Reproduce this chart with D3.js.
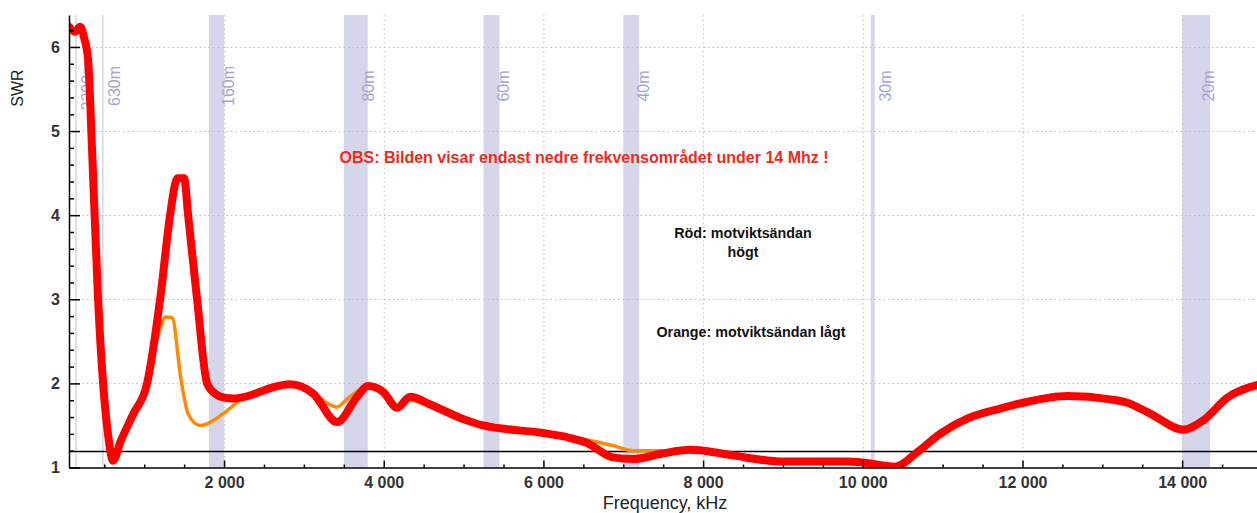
<!DOCTYPE html>
<html>
<head>
<meta charset="utf-8">
<script src="https://cdn.jsdelivr.net/npm/d3@7"></script>
<style>
  body { margin: 0; background: #fff; }
  svg { display: block; font-family: "Liberation Sans", Arial, sans-serif; }
</style>
</head>
<body>
<div id="chart"></div>
<script>
// red: counterpoise end high, orange: counterpoise end low  (kHz, SWR)
var redFreq = [59, 134, 197, 250, 297, 347, 422, 485, 540, 611, 700, 860, 1036, 1199, 1324, 1390, 1420, 1500, 1550, 1662, 1788, 1900, 2000, 2114, 2300, 2452, 2600, 2827, 3115, 3416, 3666, 3804, 3992, 4168, 4331, 4582, 4958, 5245, 5997, 6297, 6547, 6873, 7124, 7462, 7838, 8214, 8590, 9003, 9805, 9993, 10405, 10681, 10969, 11307, 11720, 12009, 12560, 13099, 13312, 13600, 14013, 14264, 14565, 14940];
var redSwr  = [6.24, 6.18, 6.24, 6.1, 5.85, 4.77, 3.0, 2.0, 1.45, 1.08, 1.3, 1.63, 2.0, 3.0, 4.0, 4.38, 4.44, 4.44, 4.0, 3.0, 2.0, 1.87, 1.83, 1.82, 1.85, 1.9, 1.95, 1.99, 1.88, 1.54, 1.84, 1.97, 1.9, 1.71, 1.84, 1.75, 1.59, 1.5, 1.41, 1.36, 1.29, 1.12, 1.1, 1.16, 1.21, 1.17, 1.11, 1.07, 1.07, 1.06, 1.01, 1.18, 1.4, 1.58, 1.7, 1.77, 1.85, 1.81, 1.77, 1.64, 1.45, 1.56, 1.83, 1.98];

var orangeFreq = [59, 134, 197, 250, 297, 347, 422, 485, 540, 611, 700, 860, 1036, 1136, 1200, 1262, 1350, 1460, 1550, 1700, 1990, 2200, 2300, 2452, 2600, 2827, 3115, 3300, 3416, 3550, 3804, 3992, 4168, 4331, 4582, 4958, 5245, 5997, 6297, 6547, 6873, 7124, 7462, 7838, 8214, 8590, 9003, 9805, 9993, 10405, 10681, 10969, 11307, 11720, 12009, 12560, 13099, 13312, 13600, 14013, 14264, 14565, 14940];
var orangeSwr  = [6.24, 6.18, 6.24, 6.1, 5.85, 4.77, 3.0, 2.0, 1.45, 1.08, 1.3, 1.63, 2.0, 2.43, 2.65, 2.79, 2.78, 2.05, 1.64, 1.5, 1.64, 1.8, 1.85, 1.9, 1.95, 1.99, 1.89, 1.76, 1.72, 1.82, 1.96, 1.89, 1.73, 1.8, 1.72, 1.56, 1.48, 1.4, 1.37, 1.33, 1.26, 1.2, 1.2, 1.21, 1.17, 1.11, 1.07, 1.07, 1.06, 1.01, 1.18, 1.4, 1.58, 1.7, 1.77, 1.85, 1.81, 1.77, 1.64, 1.45, 1.56, 1.83, 1.98];

// amateur bands, kHz
var bandNames = ["2200m", "630m", "160m", "80m", "60m", "40m", "30m", "20m"];
var bandLow   = [135.7, 472, 1810, 3500, 5250, 7000, 10100, 14000];
var bandHigh  = [137.8, 479, 2000, 3800, 5450, 7200, 10150, 14350];

var xTicks = [2000, 4000, 6000, 8000, 10000, 12000, 14000];
var yTicks = [1, 2, 3, 4, 5, 6];
var refSwr = 1.19;

var width = 1257, height = 513;
var plotTop = 15, plotBottom = 467.5, plotLeft = 69;

var svg = d3.select("#chart").append("svg")
  .attr("width", width)
  .attr("height", height);

var x = d3.scaleLinear().domain([58, 15000]).range([plotLeft, 1262]);
var y = d3.scaleLinear().domain([1, 6.38]).range([plotBottom, plotTop]);

var fmt = d3.formatLocale({decimal: ",", thousands: " ", grouping: [3], currency: ["", ""]}).format(",d");

svg.append("clipPath").attr("id", "plot")
  .append("rect")
  .attr("x", plotLeft).attr("y", plotTop)
  .attr("width", width - plotLeft).attr("height", plotBottom - plotTop);

// bands
svg.append("g").selectAll("rect")
  .data(bandNames)
  .enter().append("rect")
  .attr("x", function(d, i) { return x(bandLow[i]); })
  .attr("y", plotTop)
  .attr("width", function(d, i) { return Math.max(1.5, x(bandHigh[i]) - x(bandLow[i])); })
  .attr("height", plotBottom - plotTop)
  .attr("fill", "#d5d6e9");

// grid
var grid = svg.append("g")
  .attr("stroke", "#bdbdbd")
  .attr("stroke-width", 1)
  .attr("stroke-dasharray", "1.5,3");
grid.selectAll(".gx").data(xTicks).enter().append("line")
  .attr("x1", function(d) { return x(d) + 0.5; })
  .attr("x2", function(d) { return x(d) + 0.5; })
  .attr("y1", plotTop).attr("y2", plotBottom);
grid.selectAll(".gy").data(yTicks.slice(1)).enter().append("line")
  .attr("x1", plotLeft).attr("x2", width)
  .attr("y1", function(d) { return Math.round(y(d)) + 0.5; })
  .attr("y2", function(d) { return Math.round(y(d)) + 0.5; });

// band labels
svg.append("g").selectAll("text")
  .data(bandNames)
  .enter().append("text")
  .attr("transform", function(d, i) {
    var cx = (x(bandLow[i]) + x(bandHigh[i])) / 2 + 12;
    return "translate(" + cx + ",86) rotate(-90)";
  })
  .attr("dy", "0.36em")
  .attr("text-anchor", "middle")
  .attr("font-size", 16)
  .attr("fill", "#a2a4d3")
  .text(function(d) { return d; });

// reference line
svg.append("line")
  .attr("x1", plotLeft).attr("x2", width)
  .attr("y1", y(refSwr)).attr("y2", y(refSwr))
  .attr("stroke", "#000").attr("stroke-width", 1.5);

var line = d3.line()
  .x(function(d) { return x(d[0]); })
  .y(function(d) { return y(d[1]); })
  .curve(d3.curveMonotoneX);

var curves = svg.append("g").attr("clip-path", "url(#plot)");
curves.append("path")
  .datum(d3.zip(orangeFreq, orangeSwr))
  .attr("d", line)
  .attr("fill", "none")
  .attr("stroke", "#ff8a00")
  .attr("stroke-width", 3.5)
  .attr("stroke-linejoin", "round");
curves.append("path")
  .datum(d3.zip(redFreq, redSwr))
  .attr("d", line)
  .attr("fill", "none")
  .attr("stroke", "#ff0000")
  .attr("stroke-width", 8)
  .attr("stroke-linejoin", "round")
  .attr("stroke-linecap", "round");

// axes
function styleAxis(g) {
  g.selectAll("path, line").attr("stroke", "#000").attr("stroke-width", 1.5);
  g.selectAll("text")
    .attr("font-family", "Liberation Sans, Arial, sans-serif")
    .attr("font-size", 16)
    .attr("font-weight", "bold")
    .attr("fill", "#333");
}

var xMinor = d3.range(500, 15000, 500).filter(function(d) { return d % 2000 !== 0; });
var yMinor = d3.range(6, 32).map(function(d) { return d / 5; }).filter(function(d) { return d % 1 !== 0; });

svg.append("g")
  .attr("transform", "translate(0," + plotBottom + ")")
  .call(d3.axisBottom(x).tickValues(xMinor).tickSize(-3).tickFormat(""))
  .call(function(g) { g.select(".domain").remove(); styleAxis(g); });
svg.append("g")
  .attr("transform", "translate(0," + plotBottom + ")")
  .call(d3.axisBottom(x).tickValues(xTicks).tickSizeInner(-7).tickSizeOuter(0).tickPadding(9).tickFormat(fmt))
  .call(styleAxis);

svg.append("g")
  .attr("transform", "translate(" + plotLeft + ",0)")
  .call(d3.axisLeft(y).tickValues(yMinor).tickSize(-5).tickFormat(""))
  .call(function(g) { g.select(".domain").remove(); styleAxis(g); });
svg.append("g")
  .attr("transform", "translate(" + plotLeft + ",0)")
  .call(d3.axisLeft(y).tickValues(yTicks).tickSizeInner(-11).tickSizeOuter(0).tickPadding(9).tickFormat(d3.format("d")))
  .call(styleAxis);

// axis titles
svg.append("text")
  .attr("x", 665).attr("y", 509)
  .attr("text-anchor", "middle")
  .attr("font-size", 18)
  .attr("fill", "#222")
  .text("Frequency, kHz");
svg.append("text")
  .attr("transform", "translate(23,88) rotate(-90)")
  .attr("text-anchor", "middle")
  .attr("font-size", 16)
  .attr("fill", "#222")
  .text("SWR");

// notes
svg.append("text")
  .attr("x", 584).attr("y", 163)
  .attr("text-anchor", "middle")
  .attr("font-size", 16)
  .attr("font-weight", "bold")
  .attr("fill", "#ee2a1c")
  .text("OBS: Bilden visar endast nedre frekvensområdet under 14 Mhz !");

var notes = svg.append("g")
  .attr("text-anchor", "middle")
  .attr("font-size", 14.3)
  .attr("font-weight", "bold")
  .attr("fill", "#111");
notes.append("text").attr("x", 743).attr("y", 238).text("Röd: motviktsändan");
notes.append("text").attr("x", 743).attr("y", 257).text("högt");
notes.append("text").attr("x", 751).attr("y", 337).text("Orange: motviktsändan lågt");
</script>
</body>
</html>
